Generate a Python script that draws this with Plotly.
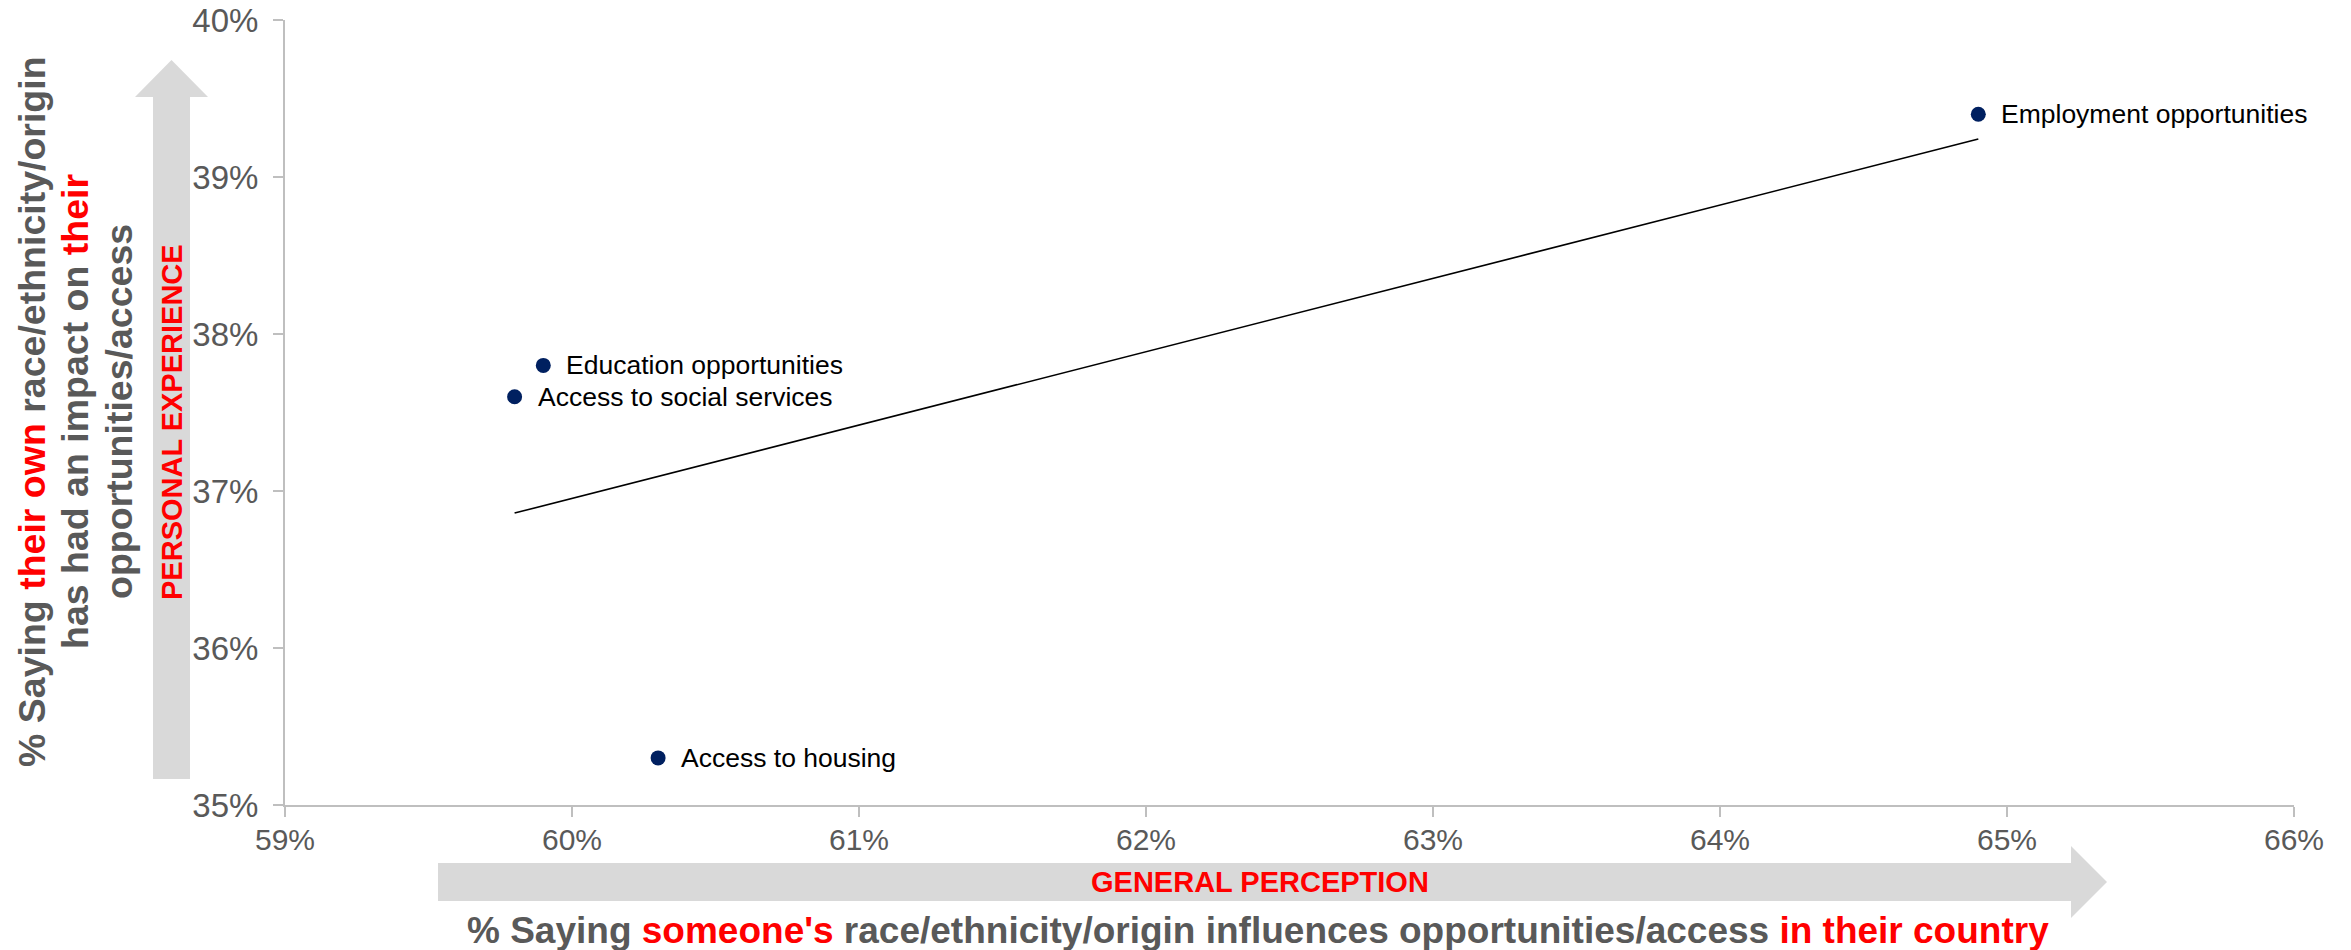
import numpy as np
import plotly.graph_objects as go

# ---- data ----
categories = ["Employment opportunities", "Education opportunities",
              "Access to social services", "Access to housing"]
general_perception = [64.9, 59.9, 59.8, 60.3]      # x, %
personal_experience = [39.4, 37.8, 37.6, 35.3]     # y, %
x_ticks = [59, 60, 61, 62, 63, 64, 65, 66]
y_ticks = [35, 36, 37, 38, 39, 40]

# ---- page geometry ----
W, H = 2351, 950
L, R, T, B = 285, 57, 20, 145
PW, PH = W - L - R, H - T - B


def px(x):
    return (x - L) / PW


def py(y):
    return (H - B - y) / PH


FONT = "Liberation Sans, Arial, sans-serif"
GRAY = "#595959"
RED = "#ff0000"
AX = "#bfbfbf"
ARROW = "#d9d9d9"

fig = go.Figure()

# trend line (least squares over the points)
slope, intercept = np.polyfit(general_perception, personal_experience, 1)
xs = np.array([min(general_perception), max(general_perception)])
fig.add_trace(go.Scatter(x=xs, y=slope * xs + intercept, mode="lines",
                         line=dict(color="black", width=1.6),
                         hoverinfo="skip", showlegend=False))

fig.add_trace(go.Scatter(x=general_perception, y=personal_experience,
                         mode="markers", text=categories,
                         marker=dict(size=15, color="#002060"),
                         showlegend=False))

annotations = []
for xv, yv, name in zip(general_perception, personal_experience, categories):
    annotations.append(dict(x=xv, y=yv, xref="x", yref="y", text=name,
                            showarrow=False, xanchor="left", yanchor="middle",
                            xshift=21, font=dict(family=FONT, size=26.5, color="black")))


def path(points):
    s = "M " + " L ".join(f"{px(a):.5f},{py(b):.5f}" for a, b in points) + " Z"
    return s


shapes = [
    dict(type="path", xref="paper", yref="paper", fillcolor=ARROW, line=dict(width=0),
         layer="below",
         path=path([(171.5, 60), (208, 97), (190, 97), (190, 779), (153, 779),
                    (153, 97), (135, 97)])),
    dict(type="path", xref="paper", yref="paper", fillcolor=ARROW, line=dict(width=0),
         layer="below",
         path=path([(438, 863), (2071, 863), (2071, 846), (2107, 882), (2071, 918),
                    (2071, 901), (438, 901)])),
]


def red(s):
    return f"<span style='color:{RED}'>{s}</span>"


ytitle_lines = [
    (32, f"% Saying {red('their own')} race/ethnicity/origin"),
    (75, f"has had an impact on {red('their')}"),
    (119, "opportunities/access"),
]
for xc, txt in ytitle_lines:
    annotations.append(dict(x=px(xc), y=py(412), xref="paper", yref="paper", text=txt,
                            showarrow=False, textangle=-90, xanchor="center",
                            yanchor="middle",
                            font=dict(family=FONT, size=37.5, color=GRAY, weight="bold")))

annotations.append(dict(x=px(1258), y=py(930), xref="paper", yref="paper",
                        text=f"% Saying {red('someone' + chr(39) + 's')} race/ethnicity/origin influences opportunities/access {red('in their country')}",
                        showarrow=False, xanchor="center", yanchor="middle",
                        font=dict(family=FONT, size=37, color=GRAY, weight="bold")))
annotations.append(dict(x=px(1260), y=py(882), xref="paper", yref="paper",
                        text="GENERAL PERCEPTION", showarrow=False,
                        xanchor="center", yanchor="middle",
                        font=dict(family=FONT, size=29, color=RED, weight="bold")))
annotations.append(dict(x=px(172), y=py(422), xref="paper", yref="paper",
                        text="PERSONAL EXPERIENCE", showarrow=False, textangle=-90,
                        xanchor="center", yanchor="middle",
                        font=dict(family=FONT, size=29, color=RED, weight="bold")))

axis_common = dict(showgrid=False, zeroline=False, showline=True, linecolor=AX,
                   linewidth=2, ticks="outside", ticklen=10, tickcolor=AX, tickwidth=2,
                   automargin=False, tickmode="array")

fig.update_layout(
    width=W, height=H,
    margin=dict(l=L, r=R, t=T, b=B, pad=0),
    paper_bgcolor="white", plot_bgcolor="white",
    xaxis=dict(range=[x_ticks[0], x_ticks[-1]], tickvals=x_ticks,
               ticktext=[f"{v}%" for v in x_ticks], ticklabelstandoff=-3,
               tickfont=dict(family=FONT, size=30, color=GRAY), **axis_common),
    yaxis=dict(range=[y_ticks[0], y_ticks[-1]], tickvals=y_ticks,
               ticktext=[f"{v}%" for v in y_ticks], ticklabelstandoff=8,
               tickfont=dict(family=FONT, size=33, color=GRAY), **axis_common),
    shapes=shapes, annotations=annotations, showlegend=False,
)

fig.write_html("out.html")
